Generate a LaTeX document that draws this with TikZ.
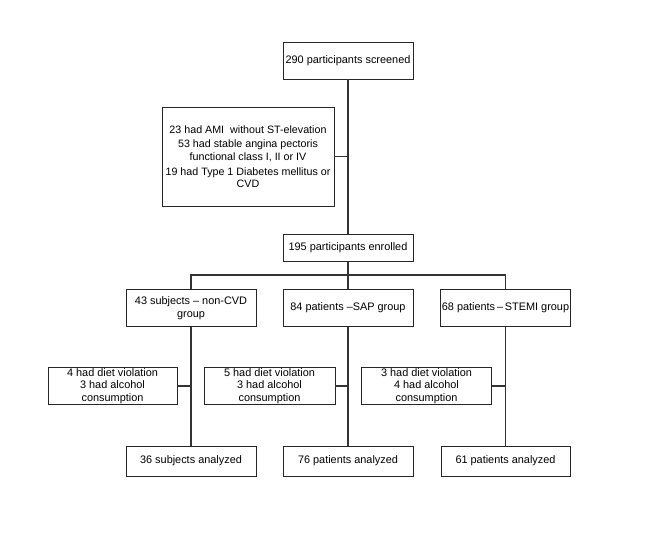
\documentclass[tikz,border=0pt]{standalone}
\usepackage{fontspec}
\setmainfont{Liberation Sans}
\begin{document}
\begin{tikzpicture}[x=1pt,y=-1pt,
  box/.style={draw=black!85,line width=0.8pt,rectangle,inner sep=1pt,align=center,
    font=\fontsize{10.9}{12.4}\selectfont,text=black},
  conn/.style={draw=black!80,line width=1.1pt}]
\useasboundingbox[fill=white] (0,0) rectangle (669,540);
\node[box,minimum width=130,minimum height=37] (top) at (348,60.5) {290 participants screened};
\node[box,minimum width=172,minimum height=99,font=\fontsize{10.7}{12.4}\selectfont] (excl) at (248,156.5)
  {23 had AMI \ without ST-elevation\\[2.5pt]
   53 had stable angina pectoris\\functional class I, II or IV\\[2.5pt]
   19 had Type 1 Diabetes mellitus or\\CVD};
\node[box,minimum width=130,minimum height=27] (enr) at (348,247.5) {195 participants enrolled};
\node[box,minimum width=130,minimum height=37] (g1) at (191,308) {43 subjects -- non-CVD\\group};
\node[box,minimum width=130,minimum height=37] (g2) at (348,308) {84 patients --SAP group};
\node[box,minimum width=129,minimum height=37] (g3) at (505.5,308) {68 patients\,--\,STEMI group};
\node[box,minimum width=129,minimum height=36] (e1) at (112.5,386) {4 had diet violation\\3 had alcohol\\consumption};
\node[box,minimum width=131,minimum height=36] (e2) at (269.5,386) {5 had diet violation\\3 had alcohol\\consumption};
\node[box,minimum width=130,minimum height=36] (e3) at (426.5,386) {3 had diet violation\\4 had alcohol\\consumption};
\node[box,minimum width=130,minimum height=30] (a1) at (191,461) {36 subjects analyzed};
\node[box,minimum width=130,minimum height=30] (a2) at (348,461) {76 patients analyzed};
\node[box,minimum width=129,minimum height=30] (a3) at (505.5,461) {61 patients analyzed};
\coordinate (j0) at (348,156.5);
\coordinate (bl) at (191,275);
\coordinate (bm) at (348,275);
\coordinate (br) at (505.5,275);
\coordinate (j1) at (191,386);
\coordinate (j2) at (348,386);
\coordinate (j3) at (505.5,386);
\draw[conn] (top.south) -- (enr.north);
\draw[conn] (excl.east) -- (j0);
\draw[conn] (enr.south) -- (bm);
\draw[conn] (g1.north) -- (bl) -- (br) -- (g3.north);
\draw[conn] (bm) -- (g2.north);
\draw[conn] (g1.south) -- (a1.north);
\draw[conn] (g2.south) -- (a2.north);
\draw[conn] (g3.south) -- (a3.north);
\draw[conn] (e1.east) -- (j1);
\draw[conn] (e2.east) -- (j2);
\draw[conn] (e3.east) -- (j3);
\end{tikzpicture}
\end{document}
